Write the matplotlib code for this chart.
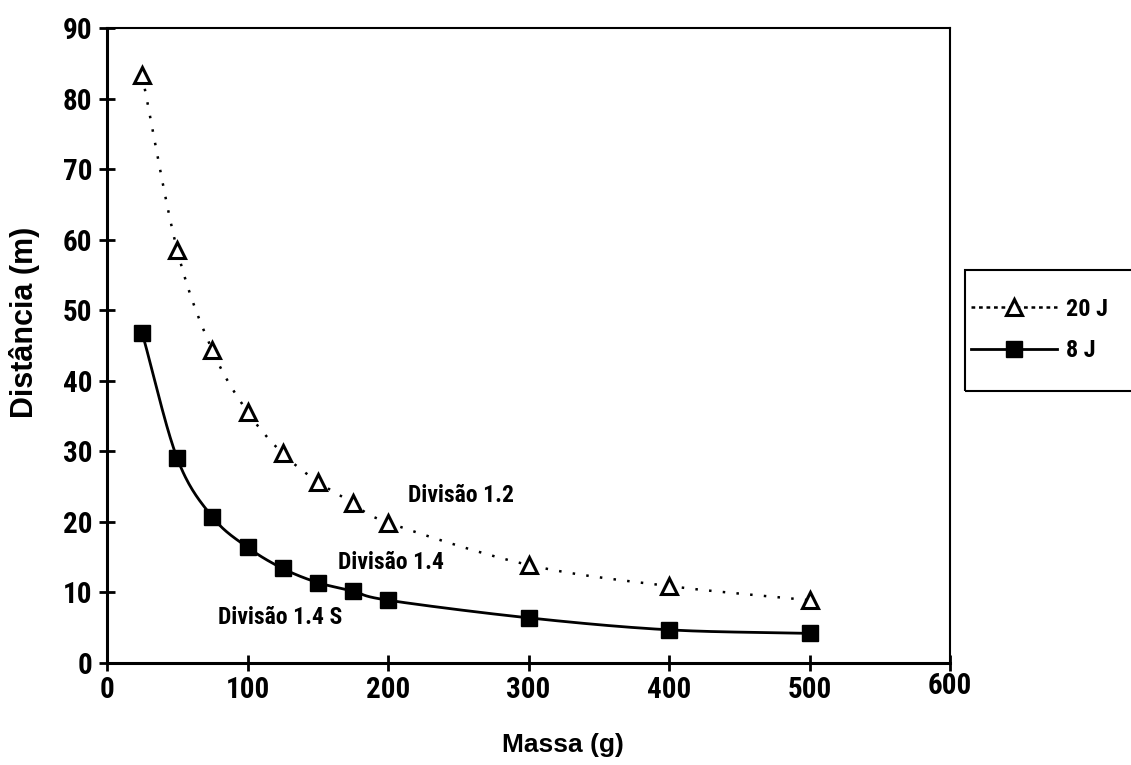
import numpy as np
import matplotlib
matplotlib.use("Agg")
import matplotlib.pyplot as plt
import matplotlib.transforms as mtransforms
from matplotlib.patches import Rectangle
from matplotlib import font_manager

massa = [25, 50, 75, 100, 125, 150, 175, 200, 300, 400, 500]
dist_20J = [83.3, 58.5, 44.3, 35.6, 29.7, 25.7, 22.7, 19.9, 13.9, 10.9, 8.9]
dist_8J = [46.8, 29.0, 20.7, 16.4, 13.4, 11.4, 10.2, 8.9, 6.4, 4.7, 4.2]
serie_labels = ["20 J", "8 J"]
anotacoes = [("Divisão 1.2", 214, 23.8), ("Divisão 1.4", 164.4, 14.3), ("Divisão 1.4 S", 79, 6.5)]
xticks = [0, 100, 200, 300, 400, 500, 600]
yticks = [0, 10, 20, 30, 40, 50, 60, 70, 80, 90]

names = {f.name for f in font_manager.fontManager.ttflist}
narrow = 'Liberation Sans'
for cand in ['Liberation Sans Narrow', 'Arial Narrow', 'Roboto Condensed']:
    if cand in names:
        narrow = cand
        break
plt.rcParams['font.family'] = [narrow, 'DejaVu Sans']
wide = ['Liberation Sans', 'DejaVu Sans']


def smooth(x, y, n=30):
    # Catmull-Rom spline through the data points (for drawing only)
    x = np.asarray(x, float); y = np.asarray(y, float)
    P = np.column_stack([x, y])
    P = np.vstack([2 * P[0] - P[1], P, 2 * P[-1] - P[-2]])
    out = []
    for i in range(1, len(P) - 2):
        p0, p1, p2, p3 = P[i - 1], P[i], P[i + 1], P[i + 2]
        t = np.linspace(0, 1, n, endpoint=False)[:, None]
        seg = 0.5 * ((2 * p1) + (-p0 + p2) * t + (2 * p0 - 5 * p1 + 4 * p2 - p3) * t ** 2
                     + (-p0 + 3 * p1 - 3 * p2 + p3) * t ** 3)
        out.append(seg)
    out.append(P[-2][None, :])
    out = np.vstack(out)
    return out[:, 0], out[:, 1]


W, H = 1131, 765
fig = plt.figure(figsize=(W / 100, H / 100), dpi=100)
ax = fig.add_axes([107 / W, 1 - 663 / H, (950 - 107) / W, (663 - 28) / H])

dotted = (0, (1, 4.5))
sx, sy = smooth(massa, dist_20J)
ax.plot(sx, sy, color='black', lw=1.8, ls=dotted)
ax.plot(massa, dist_20J, ls='none', marker='^', ms=11, mfc='white', mec='black', mew=2.2)
sx, sy = smooth(massa, dist_8J)
ax.plot(sx, sy, color='black', lw=2)
ax.plot(massa, dist_8J, ls='none', marker='s', ms=12, mfc='black', mec='black')

ax.set_xlim(0, 600)
ax.set_ylim(0, 90)
ax.set_xticks(xticks)
ax.set_yticks(yticks)
ax.tick_params(direction='inout', length=11, width=2, labelsize=21)
ax.tick_params(axis='x', pad=4)
ax.tick_params(axis='y', pad=5)
for lab in ax.get_xticklabels() + ax.get_yticklabels():
    lab.set_fontweight('bold')
# the "600" label sits a little higher in the reference
xl = ax.get_xticklabels()
xl[-1].set_transform(xl[-1].get_transform() + mtransforms.ScaledTranslation(0, 4 / 100, fig.dpi_scale_trans))
for s in ax.spines.values():
    s.set_linewidth(1.5)
ax.spines['left'].set_linewidth(2.2)
ax.spines['bottom'].set_linewidth(2.2)

ax.set_xlabel("Massa (g)", fontsize=19, fontweight='bold', family=wide)
ax.xaxis.set_label_coords((563 - 107) / 843, (663 - 733) / 635)
ax.set_ylabel("Distância (m)", fontsize=22, fontweight='bold', family=wide)
ax.yaxis.set_label_coords((40 - 107) / 843, (663 - 322) / 635)

for txt, x, y in anotacoes:
    ax.text(x, y, txt, fontsize=17, fontweight='bold', va='center', ha='left')

# legend frame
fig.patches.append(Rectangle((965 / W, 1 - 391 / H), (1135 - 965) / W, (391 - 270) / H,
                             transform=fig.transFigure, fill=False, edgecolor='black', lw=1.5))
h1, = ax.plot([], [], color='black', lw=1.8, ls=(0, (1.5, 1.5)), marker='^', ms=11, mfc='white', mec='black', mew=2.2)
h2, = ax.plot([], [], color='black', lw=2, marker='s', ms=12, mfc='black', mec='black')
leg = fig.legend([h1, h2], serie_labels, loc='center left', bbox_to_anchor=(971 / W, 1 - 330 / H),
                 frameon=False, handlelength=3.55, prop={'size': 17.5, 'weight': 'bold'},
                 borderpad=0, labelspacing=0.75, handletextpad=0.37, borderaxespad=0)

fig.savefig("out.png", dpi=100)
